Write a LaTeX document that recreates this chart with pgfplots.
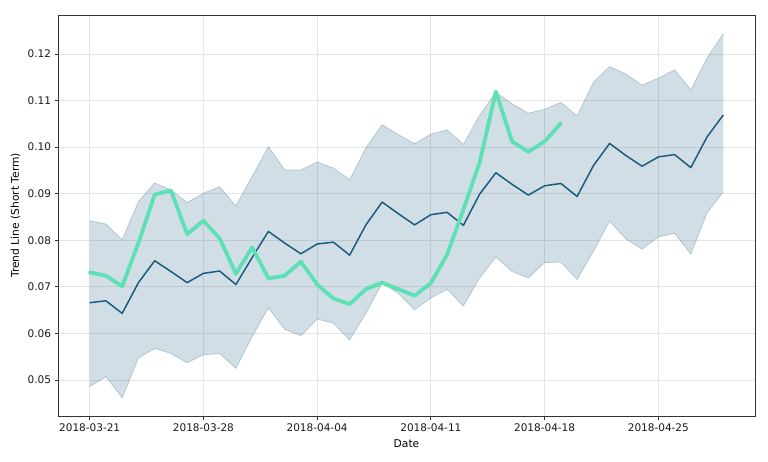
\documentclass[border=0pt]{standalone}
\usepackage{fontspec}
\setmainfont{DejaVu Sans}
\usepackage{pgfplots}
\usepackage{pgfplotstable}
\pgfplotsset{compat=1.18}
\usepgfplotslibrary{fillbetween}
\definecolor{darkc}{HTML}{1A5C7F}
\definecolor{mint}{HTML}{5EE0B5}
\pgfplotstableread{
day dark up low
0 0.0666 0.0842 0.0486
1 0.0670 0.0835 0.0507
2 0.0643 0.0801 0.0462
3 0.0709 0.0883 0.0547
4 0.0756 0.0923 0.0568
5 0.0733 0.0908 0.0557
6 0.0709 0.0881 0.0537
7 0.0729 0.0901 0.0554
8 0.0734 0.0915 0.0557
9 0.0705 0.0874 0.0525
10 0.0763 0.0937 0.0593
11 0.0819 0.1001 0.0655
12 0.0794 0.0951 0.0609
13 0.0771 0.0951 0.0595
14 0.0792 0.0968 0.0631
15 0.0796 0.0955 0.0622
16 0.0768 0.0930 0.0586
17 0.0833 0.0998 0.0643
18 0.0882 0.1048 0.0708
19 0.0857 0.1027 0.0686
20 0.0833 0.1007 0.0651
21 0.0855 0.1028 0.0676
22 0.0860 0.1037 0.0695
23 0.0832 0.1006 0.0659
24 0.0899 0.1068 0.0719
25 0.0945 0.1118 0.0764
26 0.0920 0.1093 0.0733
27 0.0897 0.1073 0.0719
28 0.0917 0.1081 0.0752
29 0.0922 0.1096 0.0753
30 0.0894 0.1067 0.0716
31 0.0960 0.1139 0.0776
32 0.1008 0.1173 0.0841
33 0.0982 0.1157 0.0803
34 0.0959 0.1133 0.0781
35 0.0979 0.1148 0.0807
36 0.0984 0.1166 0.0815
37 0.0956 0.1123 0.0770
38 0.1022 0.1191 0.0859
39 0.1069 0.1244 0.0904
}\bandtable
\pgfplotstableread{
day val
0 0.0731
1 0.0724
2 0.0701
3 0.0794
4 0.0898
5 0.0907
6 0.0813
7 0.0842
8 0.0804
9 0.0728
10 0.0785
11 0.0718
12 0.0724
13 0.0754
14 0.0705
15 0.0675
16 0.0663
17 0.0695
18 0.0709
19 0.0695
20 0.0681
21 0.0708
22 0.0769
23 0.0866
24 0.0967
25 0.1119
26 0.1012
27 0.0990
28 0.1012
29 0.1051
}\greentable
\begin{document}
\begin{tikzpicture}
\begin{axis}[
  at={(58pt,45pt)}, anchor=south west,
  scale only axis, width=697pt, height=401pt,
  xmin=-1.95, xmax=40.95, ymin=0.04227, ymax=0.12837,
  xtick={0,7,14,21,28,35},
  xticklabels={2018-03-21,2018-03-28,2018-04-04,2018-04-11,2018-04-18,2018-04-25},
  ytick={0.05,0.06,0.07,0.08,0.09,0.10,0.11,0.12},
  scaled y ticks=false,
  yticklabel style={/pgf/number format/.cd, fixed, fixed zerofill, precision=2, assume math mode=true},
  tick label style={font=\fontsize{10.5}{12}\selectfont, text=black!90},
  label style={font=\fontsize{10.7}{12}\selectfont},
  xlabel={Date}, ylabel={Trend Line (Short Term)},
  xlabel style={at={(axis description cs:0.5,0)}, anchor=north, yshift=-20pt},
  ylabel style={at={(axis description cs:-0.049,0.5)}, anchor=south, rotate=0},
  tick align=outside, tick pos=left,
  major tick length=3.5pt,
  every tick/.style={black!80, line width=0.8pt},
  xticklabel style={yshift=-1pt},
  grid=major,
  major grid style={black!10, line width=0.8pt},
  axis line style={black!80, line width=0.8pt},
]
\addplot[name path=upper, darkc, draw opacity=0.25, line width=0.8pt] table[x=day, y=up] {\bandtable};
\addplot[name path=lower, darkc, draw opacity=0.25, line width=0.8pt] table[x=day, y=low] {\bandtable};
\addplot[darkc, fill opacity=0.2, draw=none] fill between[of=upper and lower];
\addplot[darkc, line width=1.5pt, line join=round] table[x=day, y=dark] {\bandtable};
\addplot[mint, line width=3.8pt, line join=round, line cap=round] table[x=day, y=val] {\greentable};
\end{axis}
\pgfresetboundingbox
\path[use as bounding box] (0pt,0pt) rectangle (768pt,461pt);
\end{tikzpicture}
\end{document}
